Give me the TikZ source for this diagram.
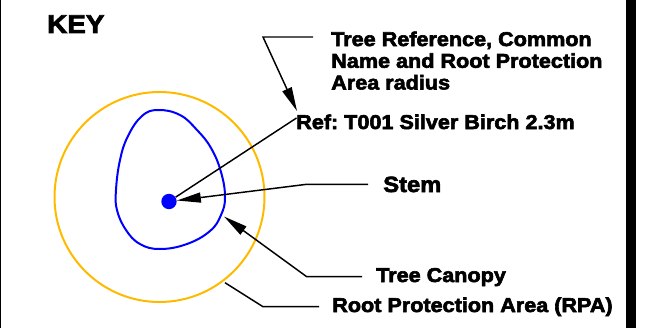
\documentclass[tikz,border=0pt]{standalone}
\usepackage{fontspec}
\setmainfont{Liberation Sans}[FakeStretch=1.08, BoldFeatures={FakeBold=3}]
\usetikzlibrary{arrows.meta}
\frenchspacing

\definecolor{rpaorange}{RGB}{255,186,0}
\definecolor{canopyblue}{RGB}{0,0,255}

\tikzset{
  leader/.style={draw=black, line width=1.1pt},
  leadarrow/.style={leader, -{Triangle[length=18pt,width=7.5pt]}},
  keylabel/.style={anchor=base west, inner sep=0pt, font=\fontsize{15}{16.3}\selectfont\bfseries},
}

\begin{document}
\begin{tikzpicture}[x=0.75pt,y=0.75pt,yscale=-1,xscale=1]
\useasboundingbox (0,0) rectangle (667,328);

%Frame edges
\draw[line width=0.75pt] (0.5,0) -- (0.5,328);
\fill (626,0) rectangle (636,328);

%Shape: Circle (root protection area)
\draw[rpaorange, line width=1.5pt] (159.5,197) circle [radius=105];
%Shape: Canopy outline
\draw[canopyblue, line width=1.5pt] plot[smooth cycle, tension=0.7] coordinates {
  (158,110) (180,115) (197,130) (211,148) (221,172) (225,197) (221,215)
  (210,231) (187,244) (160,249) (140,244) (126,230) (117,210) (116,190)
  (120,160) (128,136) (142,116)};
%Shape: Stem dot
\node[circle, fill=canopyblue, inner sep=0pt, minimum size=11.5pt] (stem) at (169,201.5) {};

% Text Node
\node[keylabel, font=\fontsize{19.3}{20}\selectfont\bfseries] (keylbl) at (47,33) {KEY};
% Text Node (anchored on its last line)
\node[keylabel, align=left] (treeref) at (331,89.5) {Tree Reference, Common\\Name and Root Protection\\Area radius};
% Text Node
\node[keylabel] (reflbl) at (296,129) {Ref: T001 Silver Birch 2.3m};
% Text Node
\node[keylabel, font=\fontsize{16.5}{18}\selectfont\bfseries] (stemlbl) at (383,192) {Stem};
% Text Node
\node[keylabel] (canopylbl) at (376,282) {Tree Canopy};
% Text Node
\node[keylabel] (rpalbl) at (332,312) {Root Protection Area (RPA)};

%Leader ends and knees
\coordinate (trend) at (313,37);
\coordinate (trknee) at (263,37);
\coordinate (reftip) at (297,111);
\coordinate (refstart) at (296.5,118);
\coordinate (stemend) at (368,184.3);
\coordinate (stemknee) at (306.7,184.3);
\coordinate (canend) at (362,276.7);
\coordinate (canknee) at (306.7,276.7);
\coordinate (cantip) at (224,216.5);
\coordinate (rpaend) at (319,306.7);
\coordinate (rpaknee) at (263,306.7);
\coordinate (rpatip) at (225,282.7);

%Leaders
\draw[leadarrow] (trend) -- (trknee) -- (reftip);
\draw[leader] (refstart) -- (stem);
\draw[leadarrow] (stemend) -- (stemknee) -- (stem);
\draw[leadarrow] (canend) -- (canknee) -- (cantip);
\draw[leader] (rpaend) -- (rpaknee) -- (rpatip);

\end{tikzpicture}
\end{document}
